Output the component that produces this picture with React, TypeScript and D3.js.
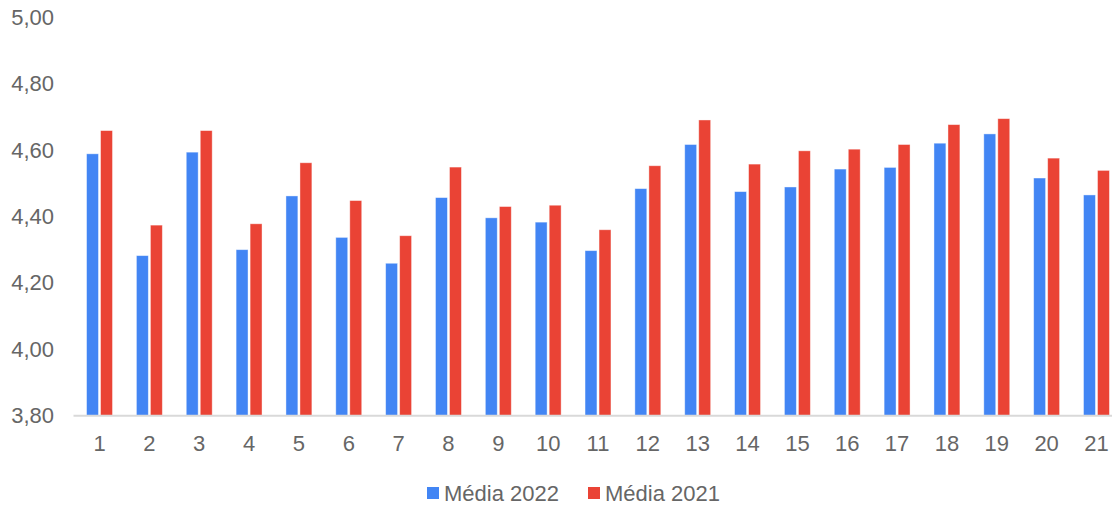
import React from "react";
import * as d3 from "d3";

const categories = ["1","2","3","4","5","6","7","8","9","10","11","12","13","14","15","16","17","18","19","20","21"];
const media2022 = [4.589,4.282,4.594,4.300,4.462,4.337,4.259,4.457,4.396,4.383,4.297,4.484,4.617,4.475,4.489,4.543,4.548,4.621,4.649,4.516,4.465];
const media2021 = [4.659,4.374,4.659,4.378,4.562,4.448,4.342,4.549,4.430,4.434,4.360,4.553,4.691,4.558,4.598,4.603,4.617,4.677,4.695,4.576,4.539];
const yTicks = [3.8,4.0,4.2,4.4,4.6,4.8,5.0];
const seriesNames = ["Média 2022","Média 2021"];
const seriesColors = ["#4285F4","#EA4335"];

const W = 1112, H = 506;
const FONT = "'Liberation Sans', Arial, sans-serif";
const TEXT = "#666666";

export default function App() {
  const x0 = d3.scaleBand<string>().domain(categories).range([74.6, 1121.4]).paddingInner(0.48).paddingOuter(0.24);
  const x1 = d3.scaleBand<string>().domain(seriesNames).range([0, x0.bandwidth()]).paddingInner(0.15).paddingOuter(0);
  const y = d3.scaleLinear().domain([3.8, 5.0]).range([415.5, 17.5]);
  const loc = d3.formatLocale({ decimal: ",", thousands: ".", grouping: [3], currency: ["", ""] });
  const fmt = loc.format(".2f");
  const series = [media2022, media2021];

  return (
    <svg width={W} height={H} style={{ position: "absolute", left: 0, top: 0, background: "#fff" }} fontFamily={FONT}>
      {yTicks.map((t) => (
        <text key={t} x={54} y={y(t)} textAnchor="end" dominantBaseline="central" fontSize={22} fill={TEXT}>{fmt(t)}</text>
      ))}
      {categories.map((c, i) => (
        <g key={c} transform={`translate(${x0(c)},0)`}>
          {series.map((s, j) => (
            <rect key={j} x={x1(seriesNames[j])} y={y(s[i])} width={x1.bandwidth()} height={y(3.8) - y(s[i])}
              fill={seriesColors[j]} stroke="#ffffff" strokeOpacity={0.5} strokeWidth={0.8} />
          ))}
        </g>
      ))}
      <line x1={73.5} x2={1112} y1={415.7} y2={415.7} stroke="#d9d9d9" strokeWidth={2} />
      {categories.map((c) => (
        <text key={c} x={(x0(c) as number) + x0.bandwidth() / 2} y={443} textAnchor="middle" dominantBaseline="central" fontSize={22} fill={TEXT}>{c}</text>
      ))}
      <g>
        <rect x={427} y={487} width={12} height={12} fill={seriesColors[0]} />
        <text x={444} y={493} dominantBaseline="central" fontSize={22} fill={TEXT}>{seriesNames[0]}</text>
        <rect x={588} y={487} width={12} height={12} fill={seriesColors[1]} />
        <text x={605} y={493} dominantBaseline="central" fontSize={22} fill={TEXT}>{seriesNames[1]}</text>
      </g>
    </svg>
  );
}
